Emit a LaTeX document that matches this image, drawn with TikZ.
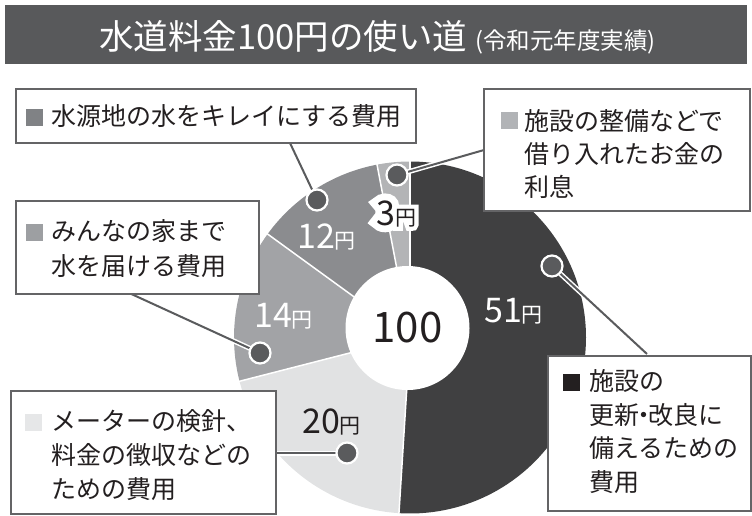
\documentclass[tikz,border=0pt]{standalone}
\usepackage{fontspec}
\setmainfont{Noto Sans CJK JP}
\newfontfamily\halofont[FakeBold=40]{Noto Sans CJK JP}
\definecolor{titlebg}{HTML}{58595B}
\definecolor{c51}{HTML}{404041}
\definecolor{c20}{HTML}{E1E2E3}
\definecolor{c14}{HTML}{A2A3A6}
\definecolor{c12}{HTML}{8B8C8F}
\definecolor{c3}{HTML}{B3B4B6}
\definecolor{dotc}{HTML}{5A5B5D}
\definecolor{txt}{HTML}{231F20}
\definecolor{boxline}{HTML}{646466}
\definecolor{sqA}{HTML}{808285}
\definecolor{sqB}{HTML}{B1B3B6}
\definecolor{sqC}{HTML}{9D9FA2}
\definecolor{sqD}{HTML}{E6E7E8}
\definecolor{sqE}{HTML}{231F20}
\begin{document}
\begin{tikzpicture}[x=1pt,y=-1pt,
  boxtext/.style={inner sep=0pt, anchor=base west, text=txt, font=\fontsize{25}{25}\selectfont},
  legbox/.style={draw=boxline, line width=2pt, fill=white, inner sep=0pt, anchor=north west},
  sqr/.style={inner sep=0pt, minimum size=17pt},
  conn/.style={draw=dotc, line width=2pt},
  casing/.style={draw=white, line width=5pt},
  dotm/.style={circle, fill=dotc, draw=white, line width=2.2pt, minimum size=21pt, inner sep=0pt},
  sepl/.style={draw=white, line width=1.5pt},
  val/.style={inner sep=0pt, anchor=base west},
]
\useasboundingbox (0,0) rectangle (752,515);
% title
\node[fill=titlebg, minimum width=742pt, minimum height=59pt, inner sep=0pt, anchor=north west] (titlebar) at (5,5) {};
\node[inner sep=0pt, anchor=base west, text=white] (title) at (99,49)
  {{\fontsize{34.5}{35}\selectfont 水道料金100円の使い道}\hspace{8pt}{\fontsize{23.5}{24}\selectfont (令和元年度実績)}};
% pie
\coordinate (C) at (410,337.5);
\fill[c51] (C) -- ++(-90:176) arc[start angle=-90,end angle=93.6,radius=176] -- cycle;
\fill[c20] (C) -- ++(93.6:176) arc[start angle=93.6,end angle=165.6,radius=176] -- cycle;
\fill[c14] (C) -- ++(165.6:176) arc[start angle=165.6,end angle=216,radius=176] -- cycle;
\fill[c12] (C) -- ++(216:176) arc[start angle=216,end angle=259.2,radius=176] -- cycle;
\fill[c3] (C) -- ++(259.2:176) arc[start angle=259.2,end angle=270,radius=176] -- cycle;
\foreach \a in {-90,93.6,165.6,216,259.2} \draw[sepl] (C) -- ++(\a:176.5);
\node[circle, fill=white, minimum size=124pt, inner sep=0pt] (inner) at (407.5,328) {};
\node[inner sep=0pt, text=txt, font=\fontsize{42}{42}\selectfont] (total) at (407.5,328) {100};
% value labels
\node[val, text=white] (v51) at (484,322) {{\fontsize{34}{34}\selectfont 51}{\fontsize{21}{21}\selectfont 円}};
\node[val, text=white] (v12) at (297,248) {{\fontsize{34}{34}\selectfont 12}{\fontsize{21}{21}\selectfont 円}};
\node[val, text=white] (v14) at (254,327) {{\fontsize{34}{34}\selectfont 14}{\fontsize{21}{21}\selectfont 円}};
\node[val, text=txt] (v20) at (302,433) {{\fontsize{34}{34}\selectfont 20}{\fontsize{21}{21}\selectfont 円}};
\node[val, text=white] (v3halo) at (376,225) {\halofont{\fontsize{34}{34}\selectfont 3}{\fontsize{21}{21}\selectfont 円}};
\node[val, text=txt] (v3) at (376,225) {{\fontsize{34}{34}\selectfont 3}{\fontsize{21}{21}\selectfont 円}};
% connector points
\coordinate (p12) at (317,200);
\coordinate (p3) at (397,175);
\coordinate (p51) at (552,266);
\coordinate (p14) at (260,353);
\coordinate (p20) at (347,453);
\coordinate (e12) at (290,143);
\coordinate (e3) at (484,150);
\coordinate (e51) at (647,354);
\coordinate (e14) at (127,292);
\coordinate (e20) at (274,453);
\foreach \s/\e in {p12/e12,p3/e3,p51/e51,p14/e14,p20/e20} {
  \draw[casing] (\s) -- (\e);
  \draw[conn] (\s) -- (\e);
}
\node[dotm] (d12) at (p12) {};
\node[dotm] (d3) at (p3) {};
\node[dotm] (d51) at (p51) {};
\node[dotm] (d14) at (p14) {};
\node[dotm] (d20) at (p20) {};
% box 1
\node[legbox, minimum width=400pt, minimum height=54pt] (box1) at (15,88) {};
\node[sqr, fill=sqA] (s1) at (34,117) {};
\node[boxtext] (t1) at (51,125.5) {水源地の水をキレイにする費用};
% box 2
\node[legbox, minimum width=266pt, minimum height=122pt] (box2) at (483,88) {};
\node[sqr, fill=sqB] (s2) at (509,120) {};
\node[boxtext] (t2a) at (524,130.5) {施設の整備などで};
\node[boxtext] (t2b) at (524,163.5) {借り入れたお金の};
\node[boxtext] (t2c) at (524,196.5) {利息};
% box 3
\node[legbox, minimum width=243pt, minimum height=93pt] (box3) at (15,200) {};
\node[sqr, fill=sqC] (s3) at (34,232) {};
\node[boxtext] (t3a) at (51,240.5) {みんなの家まで};
\node[boxtext] (t3b) at (51,275.5) {水を届ける費用};
% box 4
\node[legbox, minimum width=265pt, minimum height=123pt] (box4) at (10,390) {};
\node[sqr, fill=sqD] (s4) at (33.5,422) {};
\node[boxtext] (t4a) at (51,430.5) {メーターの検針、};
\node[boxtext] (t4b) at (51,464.5) {料金の徴収などの};
\node[boxtext] (t4c) at (51,498.5) {ための費用};
% box 5
\node[legbox, minimum width=203pt, minimum height=155pt] (box5) at (547,355) {};
\node[sqr, fill=sqE] (s5) at (571.5,382) {};
\node[boxtext] (t5a) at (589,390.5) {施設の};
\node[boxtext] (t5b) at (589,424.5) {更新\kern-8pt・\kern-8pt 改良に};
\node[boxtext] (t5c) at (589,457.5) {備えるための};
\node[boxtext] (t5d) at (589,491.5) {費用};
\end{tikzpicture}
\end{document}
